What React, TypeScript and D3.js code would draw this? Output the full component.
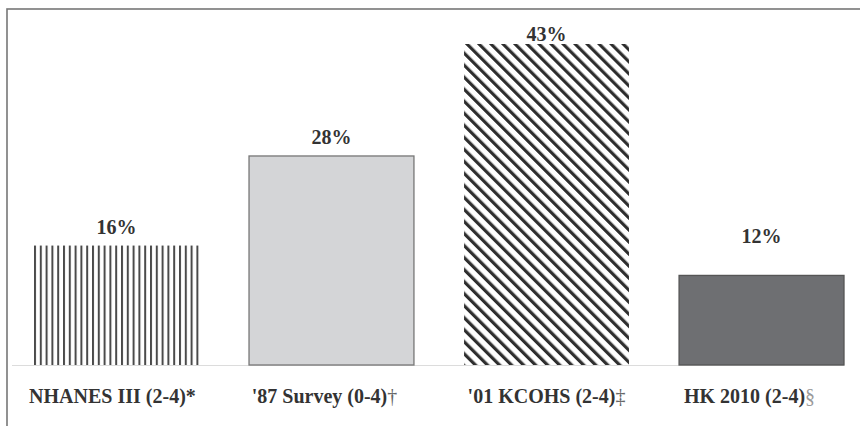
import React from "react";
import * as d3 from "d3";

const categories = ["NHANES III (2-4)", "'87 Survey (0-4)", "'01 KCOHS (2-4)", "HK 2010 (2-4)"];
const marks = ["*", "†", "‡", "§"];
const values = [16, 28, 43, 12];
const valueLabels = ["16%", "28%", "43%", "12%"];

const W = 860;
const H = 426;
const BASE = 365;

export default function App() {
  const x = d3.scaleBand<string>().domain(categories).range([34, 844]).paddingInner(0.233).paddingOuter(0);
  const y = d3.scaleLinear().domain([0, 43]).range([BASE, 44]);
  const bw = x.bandwidth();
  const labelGap = [12, 12, 3, 32];
  const catShift = [-4, -7, 0, -12];
  const markFill = ["#333", "#666", "#666", "#9a9a9a"];
  const markWeight = ["bold", "normal", "normal", "normal"];

  const fills = ["url(#vlines)", "#d4d5d7", "url(#diag)", "#6e6f72"];
  const strokes = ["none", "#777", "none", "#555"];

  return (
    <svg width={W} height={H} style={{ position: "absolute", left: 0, top: 0, display: "block", background: "#fff" }}
      fontFamily="'Liberation Serif', 'Times New Roman', serif">
      <defs>
        <pattern id="vlines" patternUnits="userSpaceOnUse" width={5.8} height={10} x={x(categories[0])}>
          <rect x={0} y={0} width={2} height={10} fill="#4a4a4a" />
        </pattern>
        <pattern id="diag" patternUnits="userSpaceOnUse" width={8.5} height={10} patternTransform="rotate(-45)">
          <rect x={0} y={0} width={3.2} height={10} fill="#2e2e2e" />
        </pattern>
      </defs>
      <rect x={0} y={0} width={W} height={H} fill="#fff" />
      <rect x={7} y={9} width={W + 20} height={H + 20} fill="none" stroke="#777" strokeWidth={1.6} />
      <line x1={12} x2={(x(categories[3]) as number) + bw} y1={BASE + 0.5} y2={BASE + 0.5} stroke="#dcdcdc" strokeWidth={1.2} />
      {categories.map((c, i) => {
        const bx = x(c) as number;
        const top = y(values[i]);
        return (
          <g key={c}>
            <rect x={bx} y={top} width={bw} height={BASE - top} fill={fills[i]}
              stroke={strokes[i]} strokeWidth={strokes[i] === "none" ? 0 : 1.3} />
            <text x={bx + bw / 2} y={top - labelGap[i]} textAnchor="middle" fontSize={20} fontWeight="bold" fill="#333">
              {valueLabels[i]}
            </text>
            <text x={bx + bw / 2 + catShift[i]} y={403} textAnchor="middle" fontSize={20} fontWeight="bold" fill="#333">
              {c}
              <tspan fill={markFill[i]} fontWeight={markWeight[i]}>{marks[i]}</tspan>
            </text>
          </g>
        );
      })}
    </svg>
  );
}
